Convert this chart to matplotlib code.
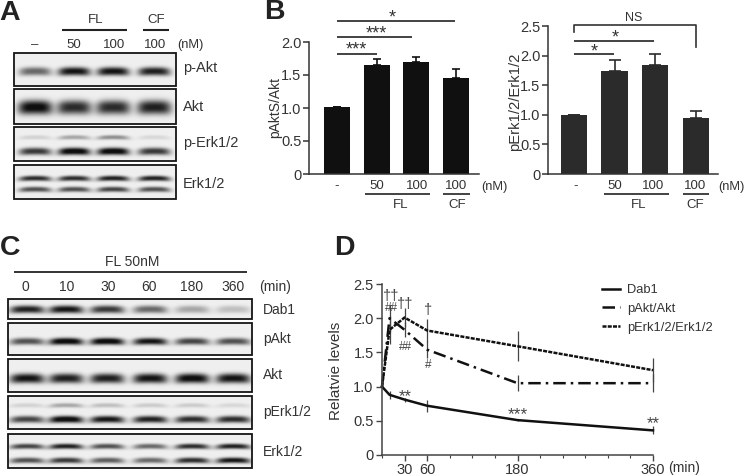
import numpy as np
import matplotlib
matplotlib.use('Agg')
import matplotlib.pyplot as plt
from matplotlib.patches import Rectangle

plt.rcParams['font.family'] = ['Liberation Sans', 'DejaVu Sans']

W, H = 745, 476
TXT = '#333333'

# panel B
bar_labels = ['-', '50', '100', '100']
pakt_vals = [1.01, 1.65, 1.70, 1.45]
pakt_errs = [0.0, 0.09, 0.08, 0.14]
perk_vals = [1.0, 1.74, 1.84, 0.95]
perk_errs = [0.0, 0.18, 0.19, 0.12]

# panel D
times = [0, 10, 30, 60, 180, 360]
dab1 = [1.0, 0.88, 0.81, 0.72, 0.51, 0.36]
dab1_err = [0, 0.06, 0.03, 0.09, 0.02, 0.06]
pakt_time = [1.0, 2.0, 1.83, 1.54, 1.05, 1.05]
pakt_time_err = [0, 0.2, 0.11, 0.12, 0.12, 0.13]
perk_time = [1.0, 1.83, 2.01, 1.82, 1.59, 1.24]
perk_time_err = [0, 0.2, 0.14, 0.17, 0.22, 0.18]

# blot band darkness, read by eye, one value per lane
a_lanes = ['50', '100', '100']
a_pakt = [0.55, 0.9, 0.9, 0.85]
a_akt = [0.95, 0.8, 0.8, 0.85]
a_perk_up = [0.12, 0.3, 0.4, 0.1]
a_perk_low = [0.75, 1.0, 1.0, 0.75]
a_erk_up = [0.8, 0.8, 0.85, 0.85]
a_erk_low = [0.65, 0.65, 0.7, 0.65]

c_lanes = ['0', '10', '30', '60', '180', '360']
c_dab1 = [0.85, 0.9, 0.75, 0.55, 0.3, 0.2]
c_pakt = [0.65, 1.0, 1.0, 0.9, 0.7, 0.65]
c_akt = [0.9, 0.85, 0.85, 0.9, 0.95, 0.9]
c_perk_up = [0.12, 0.3, 0.2, 0.15, 0.15, 0.1]
c_perk_low = [0.7, 1.0, 0.9, 0.85, 0.8, 0.8]
c_erk_up = [0.7, 0.85, 0.65, 0.55, 0.8, 0.85]
c_erk_low = [0.65, 0.75, 0.6, 0.55, 0.8, 0.9]


def px_axes(x0, y0, x1, y1):
    return fig.add_axes([x0 / W, 1 - y1 / H, (x1 - x0) / W, (y1 - y0) / H])


def blot(box, centers, half_w, rows):
    # rows: (band y, half height, lane strengths)
    x0, y0, x1, y1 = box
    xs = np.arange(x0, x1, 0.5)
    ys = np.arange(y0, y1, 0.5)
    gx, gy = np.meshgrid(xs, ys)
    dark = np.zeros_like(gx)
    for by, hh, vals in rows:
        for c, v in zip(centers, vals):
            bend = ((gx - c) / half_w) ** 2
            dark += v * np.exp(-((gx - c) / half_w) ** 4) * np.exp(-np.abs((gy - by - 0.8 * bend) / hh) ** 2.4)
    img = 0.94 - 0.88 * np.clip(dark * 1.1, 0, 1)
    over.imshow(img, cmap='gray', vmin=0, vmax=1, extent=(x0, x1, y1, y0), aspect='auto', interpolation='bilinear')
    over.add_patch(Rectangle((x0, y0), x1 - x0, y1 - y0, fill=False, ec='#151515', lw=1.3))


def hline(x0, x1, y, lw=1.2, color='#222222'):
    over.plot([x0, x1], [y, y], color=color, lw=lw, solid_capstyle='butt')


def label(x, y, s, size=9, ha='center', color=TXT, **kw):
    over.text(x, y, s, fontsize=size, ha=ha, va='center', color=color, **kw)


def bar_panel(box, vals, errs, ymax, yticks, ylabels, color, first_x, step, bar_w, cap):
    ax = px_axes(*box)
    left = (box[0] - first_x) / step
    right = (box[2] - first_x) / step
    ax.bar(range(len(vals)), vals, width=bar_w / step, color=color,
           yerr=[[0] * len(errs), errs], ecolor=color, capsize=cap,
           error_kw={'elinewidth': 1.2, 'capthick': 1.2})
    ax.set_xlim(left, right)
    ax.set_ylim(0, ymax)
    ax.set_xticks([])
    ax.set_yticks(yticks)
    ax.set_yticklabels(ylabels)
    ax.tick_params(axis='y', labelsize=10.5, length=4, width=1.1, color='#333333', labelcolor=TXT, pad=1.5)
    ax.patch.set_alpha(0)
    for s in ['top', 'right']:
        ax.spines[s].set_visible(False)
    for s in ['left', 'bottom']:
        ax.spines[s].set_linewidth(1.1)
        ax.spines[s].set_color('#333333')
    return ax


fig = plt.figure(figsize=(W / 100, H / 100), dpi=100)
over = fig.add_axes([0, 0, 1, 1], zorder=5)
over.patch.set_alpha(0)
over.axis('off')

for x, y, s in [(10, 13, 'A'), (274, 12, 'B'), (10, 248, 'C'), (344, 248, 'D')]:
    label(x, y, s, size=20.5, color='#222222', fontweight='bold')

# A
label(96, 20, 'FL', 9.5)
label(156, 20, 'CF', 9.5)
hline(62, 127, 30, 1.5)
hline(143, 169, 30, 1.5)
label(35, 45, '–', 9.5)
for x, s in zip([74, 114, 155], a_lanes):
    label(x, 45, s, 9.5)
label(190, 45, '(nM)', 9.3)

a_x = [35, 74, 113, 154]
blot((14, 53, 176, 86), a_x, 16, [(71, 4.2, a_pakt)])
blot((14, 89, 176, 124), a_x, 17, [(107, 7, a_akt)])
blot((14, 127, 176, 161), a_x, 16, [(137, 2.2, a_perk_up), (151, 3.6, a_perk_low)])
blot((14, 165, 176, 199), a_x, 16, [(178, 2.6, a_erk_up), (189, 2.6, a_erk_low)])
label(183, 68, 'p-Akt', 10.5, ha='left')
label(183, 107, 'Akt', 10.5, ha='left')
label(183, 143, 'p-Erk1/2', 10.5, ha='left')
label(183, 184, 'Erk1/2', 10.5, ha='left')

# B left
bar_panel((309, 42, 479, 174), pakt_vals, pakt_errs, 2.0, [0, 0.5, 1, 1.5, 2],
          ['0', '0.5', '1.0', '1.5', '2.0'], '#101010', 337, 39.5, 26, 3)
label(275, 107, 'pAktS/Akt', 10, rotation=90)
hline(337, 455, 21)
hline(337, 412, 37)
hline(337, 377, 54)
label(392, 18, '*', 13)
label(376, 34, '***', 13)
label(356, 50, '***', 13)
for x, s in zip([337, 377, 417, 456], bar_labels):
    label(x, 186, s, 9.5)
hline(365, 430, 194)
hline(443, 470, 194)
label(401, 205, 'FL', 9.5)
label(457, 205, 'CF', 9.5)
label(494, 187, '(nM)', 9.3)

# B right
bar_panel((548, 26, 718, 174), perk_vals, perk_errs, 2.5, [0, 0.5, 1, 1.5, 2, 2.5],
          ['0', '0.5', '1.0', '1.5', '2.0', '2.5'], '#2b2b2b', 574, 40.6, 26.5, 4.2)
label(515, 102, 'pErk1/2/Erk1/2', 10.6, rotation=90)
over.plot([574, 574, 696, 696], [32, 25, 25, 47], color='#333333', lw=1.2)
hline(574, 654, 41)
hline(574, 614, 54)
label(634, 18, 'NS', 9)
label(615, 38, '*', 13)
label(594, 52, '*', 13)
for x, s in zip([576, 615, 653, 695], bar_labels):
    label(x, 186, s, 9.5)
hline(604, 669, 194)
hline(683, 709, 194)
label(639, 205, 'FL', 9.5)
label(695, 205, 'CF', 9.5)
label(731, 187, '(nM)', 9.3)

# C
label(132, 262, 'FL 50nM', 10)
hline(14, 247, 272, 1.3)
for x, s in zip([25, 67, 108, 149, 192, 233], c_lanes):
    label(x, 287, s, 10)
label(275, 287, '(min)', 10)

c_x = [27, 66, 107, 150, 192, 233]
blot((8, 299, 252, 319), c_x, 17, [(309, 3.8, c_dab1)])
blot((8, 323, 252, 355), c_x, 17, [(341, 3.4, c_pakt)])
blot((8, 359, 252, 392), c_x, 17, [(378, 4.8, c_akt)])
blot((8, 396, 252, 429), c_x, 17, [(405, 2.2, c_perk_up), (419, 3.4, c_perk_low)])
blot((8, 434, 252, 468), c_x, 17, [(446, 2.6, c_erk_up), (460, 2.8, c_erk_low)])
label(263, 310, 'Dab1', 10, ha='left')
label(263, 339, 'pAkt', 10, ha='left')
label(263, 375, 'Akt', 10, ha='left')
label(263, 412, 'pErk1/2', 10, ha='left')
label(263, 452, 'Erk1/2', 10, ha='left')

# D
ax = px_axes(382, 284, 653, 455)
ax.patch.set_alpha(0)
err_kw = dict(ecolor='#444444', elinewidth=0.9, capsize=0)
c1 = ax.errorbar(times, perk_time, yerr=perk_time_err, color='#111111', lw=1.8, dashes=(1.6, 0.5), label='pErk1/2/Erk1/2', **err_kw)
c2 = ax.errorbar(times, pakt_time, yerr=pakt_time_err, color='#111111', lw=1.8, dashes=(5, 2, 1, 2), label='pAkt/Akt', **err_kw)
c3 = ax.errorbar(times, dab1, yerr=dab1_err, color='#111111', lw=1.8, label='Dab1', **err_kw)
# error lines at 360 sit on the axes edge
for c in [c1, c2, c3]:
    c[0].set_clip_on(False)
    for b in c[2]:
        b.set_clip_on(False)
ax.set_xlim(0, 360)
ax.set_ylim(0, 2.5)
ax.set_xticks([30, 60, 180, 360])
ax.set_xticks(np.arange(0, 361, 30), minor=True)
ax.set_yticks([0, 0.5, 1, 1.5, 2, 2.5])
ax.set_yticklabels(['0', '0.5', '1.0', '1.5', '2.0', '2.5'])
ax.tick_params(axis='both', labelsize=10.5, length=4, width=1, color='#444444', labelcolor=TXT, pad=2)
ax.tick_params(axis='x', which='minor', length=2.5, width=0.8, color='#444444')
ax.set_ylabel('Relatvie levels', fontsize=11, color=TXT)
ax.yaxis.set_label_coords((343 - 382) / 271, 0.49)
for s in ['top', 'right']:
    ax.spines[s].set_visible(False)
for s in ['left', 'bottom']:
    ax.spines[s].set_linewidth(1.1)
    ax.spines[s].set_color('#444444')
handles, labels = ax.get_legend_handles_labels()
order = [labels.index(n) for n in ['Dab1', 'pAkt/Akt', 'pErk1/2/Erk1/2']]
ax.legend([handles[i][0] for i in order], [labels[i] for i in order], loc='upper left',
          bbox_to_anchor=((602 - 382) / 271, (455 - 284) / 171), frameon=False, fontsize=9.3,
          labelcolor=TXT, handlelength=1.4, handletextpad=0.55, labelspacing=0.52,
          borderpad=0, borderaxespad=0)
label(684, 468, '(min)', 10)

for x, y, s, size in [(391, 296, '††', 10.5), (391, 308, '##', 8.5), (405, 304, '††', 10.5), (405, 347, '##', 8.5),
                      (428, 310, '†', 10.5), (428, 365, '#', 8.5), (405, 397, '**', 12),
                      (518, 415, '***', 12.5), (653, 424, '**', 12)]:
    label(x, y, s, size, color='#444444')

over.set_xlim(0, W)
over.set_ylim(H, 0)

fig.savefig('out.png', dpi=100)
